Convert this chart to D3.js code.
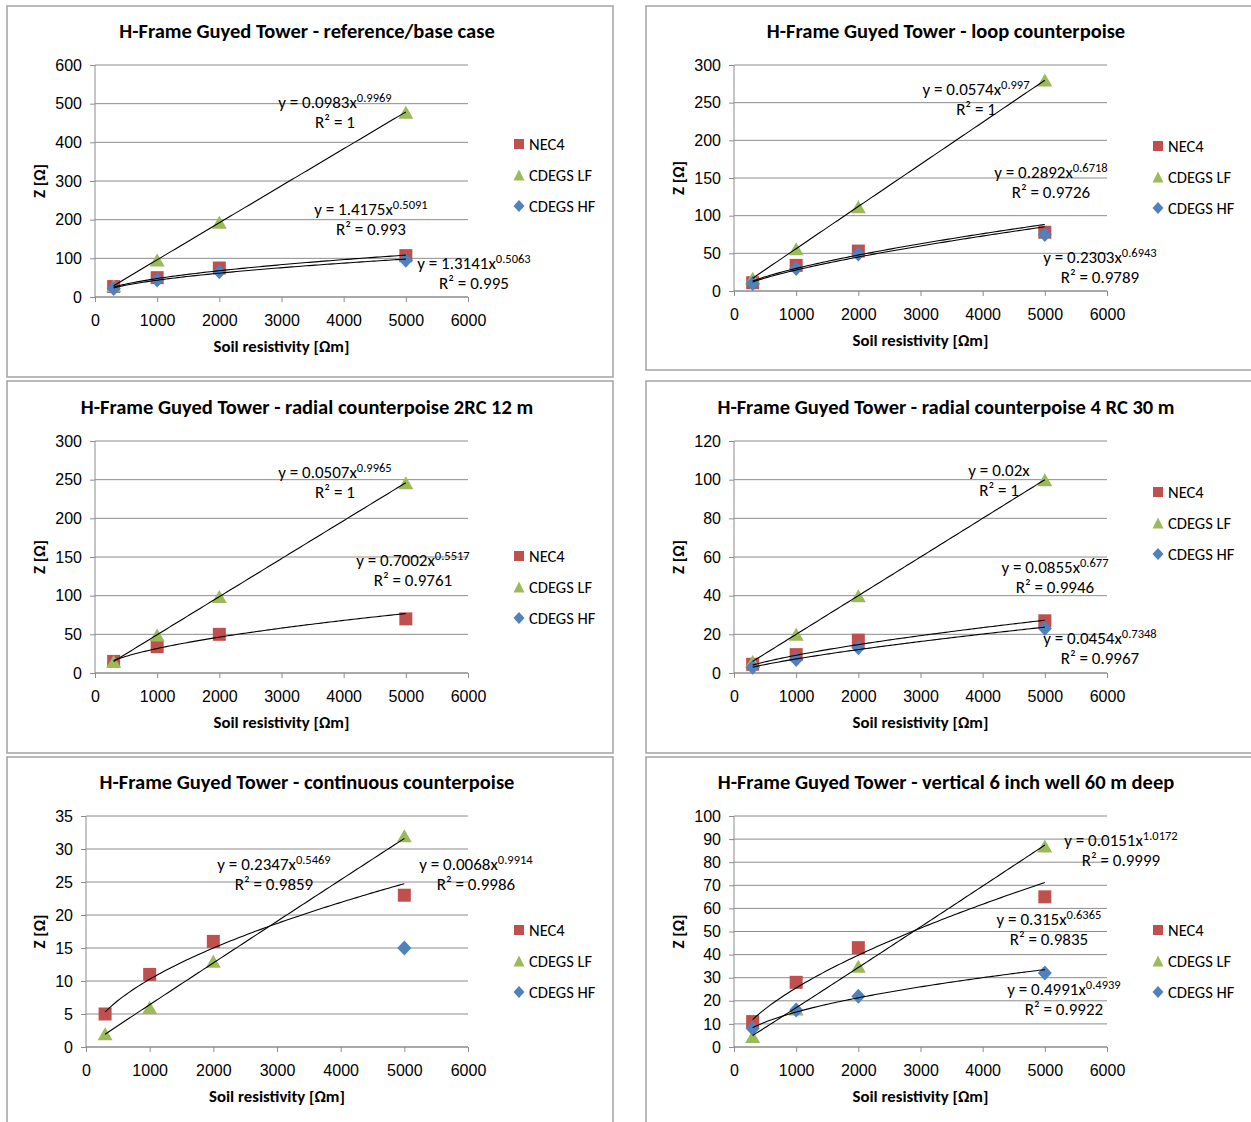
<!DOCTYPE html>
<html>
<head>
<meta charset="utf-8">
<script src="https://cdn.jsdelivr.net/npm/d3@7"></script>
<style>
  body { margin: 0; background: #fff; }
  svg { display: block; font-family: Carlito, Calibri, 'Liberation Sans', Arial, sans-serif; }
</style>
</head>
<body>
<div id="chart"></div>
<script>
// Soil resistivity values used in every panel
const resistivity = [300, 1000, 2000, 5000];
const seriesNames = ['NEC4', 'CDEGS LF', 'CDEGS HF'];
const seriesColors = ['#C0504D', '#9BBB59', '#4F81BD'];
const xTicks = [0, 1000, 2000, 3000, 4000, 5000, 6000];

const titles = [
  'H-Frame Guyed Tower - reference/base case',
  'H-Frame Guyed Tower - loop counterpoise',
  'H-Frame Guyed Tower - radial counterpoise 2RC 12 m',
  'H-Frame Guyed Tower - radial counterpoise 4 RC 30 m',
  'H-Frame Guyed Tower - continuous counterpoise',
  'H-Frame Guyed Tower - vertical 6 inch well 60 m deep',
];
const yMax = [600, 300, 300, 120, 35, 100];
const yStep = [100, 50, 50, 20, 5, 10];

// Z [ohm] per panel, one value per resistivity (null = no point)
const nec4Values = [
  [27, 50, 75, 107],
  [11, 34, 53, 78],
  [15, 34, 50, 70],
  [4.5, 9.5, 17, 27],
  [5, 11, 16, 23],
  [11, 28, 43, 65],
];
const cdegsLfValues = [
  [29, 96, 193, 478],
  [17, 56, 112, 280],
  [15, 49, 99, 246],
  [6, 20, 40, 100],
  [2, 6, 13, 32],
  [4.5, 16.5, 35, 87],
];
const cdegsHfValues = [
  [22, 44, 65, 95],
  [10, 30, 49, 75],
  [null, null, null, null],
  [3, 7, 13, 23],
  [null, null, null, 15],
  [8, 16, 22, 32],
];

// power trendlines y = a x^b as printed on the chart: [NEC4, LF, HF]
const trendCoef = [
  ['1.4175', '0.0983', '1.3141'],
  ['0.2892', '0.0574', '0.2303'],
  ['0.7002', '0.0507', null],
  ['0.0855', '0.02', '0.0454'],
  ['0.2347', '0.0068', null],
  ['0.315', '0.0151', '0.4991'],
];
const trendExp = [
  ['0.5091', '0.9969', '0.5063'],
  ['0.6718', '0.997', '0.6943'],
  ['0.5517', '0.9965', null],
  ['0.677', '', '0.7348'],
  ['0.5469', '0.9914', null],
  ['0.6365', '1.0172', '0.4939'],
];
const trendR2 = [
  ['0.993', '1', '0.995'],
  ['0.9726', '1', '0.9789'],
  ['0.9761', '1', null],
  ['0.9946', '1', '0.9967'],
  ['0.9859', '0.9986', null],
  ['0.9835', '0.9999', '0.9922'],
];
// label anchor (data units) for each trendline equation
const labelPos = [
  [[4439, 212], [3860, 489], [6096, 72]],
  [[5099, 150], [3893, 260], [5887, 37]],
  [[5115, 138], [3860, 252], null],
  [[5163, 51.7], [4263, 101.9], [5887, 15]],
  [[2953, 26.8], [6125, 26.8], null],
  [[5067, 52.8], [6225, 87], [5308, 22.5]],
];

// panel frames and layout
const panelLeft = [7, 646, 7, 646, 7, 646];
const panelTop = [6, 6, 381, 381, 757, 757];
const panelHeight = [371, 364, 372, 372, 380, 380];
const plotLeft = [88, 88, 88, 88, 79, 88];
const plotTop = [59, 59, 60, 60, 59, 59];
const plotBottom = [291, 285, 292, 292, 290, 290];
const legendMid = [169, 171, 206, 142, 204, 204];
const panelWidth = 606;
const plotRight = 461;

const svg = d3
  .select('#chart')
  .append('svg')
  .attr('width', 1251)
  .attr('height', 1122);

svg.append('rect').attr('width', 1251).attr('height', 1122).attr('fill', '#fff');

// marker shapes (Excel style), w = width, h = height
function markerPath(kind, w, h) {
  const p = d3.path();
  if (kind === 0) {
    p.rect(-w / 2, -h / 2, w, h);
  } else if (kind === 1) {
    p.moveTo(0, -h / 2);
    p.lineTo(w / 2, h / 2);
    p.lineTo(-w / 2, h / 2);
    p.closePath();
  } else {
    p.moveTo(0, -h / 2);
    p.lineTo(w / 2, 0);
    p.lineTo(0, h / 2);
    p.lineTo(-w / 2, 0);
    p.closePath();
  }
  return p.toString();
}
const markerSize = [[13, 13], [15, 13], [14, 15]];
const legendMarkerSize = [[10, 10], [11, 11], [11, 12]];

function drawPanel(p) {
  const g = svg.append('g').attr('transform', `translate(${panelLeft[p]},${panelTop[p]})`);

  g.append('rect')
    .attr('x', 0)
    .attr('y', 0)
    .attr('width', panelWidth)
    .attr('height', panelHeight[p])
    .attr('fill', 'none')
    .attr('stroke', '#a3a3a3')
    .attr('stroke-width', 1.5);

  const x = d3.scaleLinear().domain([0, 6000]).range([plotLeft[p], plotRight]);
  const y = d3.scaleLinear().domain([0, yMax[p]]).range([plotBottom[p], plotTop[p]]);
  const yTicks = d3.range(0, yMax[p] + yStep[p] / 2, yStep[p]);

  // gridlines
  g.append('g')
    .selectAll('line')
    .data(yTicks)
    .join('line')
    .attr('x1', plotLeft[p])
    .attr('x2', plotRight)
    .attr('y1', (d) => y(d))
    .attr('y2', (d) => y(d))
    .attr('stroke', '#8c8c8c')
    .attr('stroke-width', 1);

  // axes
  const yAxis = g
    .append('g')
    .attr('transform', `translate(${plotLeft[p]},0)`)
    .call(d3.axisLeft(y).tickValues(yTicks).tickSize(5).tickPadding(8).tickFormat(d3.format('d')));
  const xAxis = g
    .append('g')
    .attr('transform', `translate(0,${plotBottom[p]})`)
    .call(d3.axisBottom(x).tickValues(xTicks).tickSize(5).tickPadding(13).tickFormat(d3.format('d')));

  [yAxis, xAxis].forEach((a) => {
    a.select('.domain').attr('stroke', '#8c8c8c');
    a.selectAll('.tick line').attr('stroke', '#8c8c8c');
    a.selectAll('.tick text')
      .attr('fill', '#000')
      .style('font-family', 'inherit')
      .style('font-size', '16px');
  });
  yAxis.select('.domain').attr('d', `M0,${plotBottom[p]}V${plotTop[p]}`);
  xAxis.select('.domain').attr('d', `M${plotLeft[p]},0H${plotRight}`);

  // title
  g.append('text')
    .attr('x', panelWidth / 2 - 3)
    .attr('y', p < 2 ? 25 : p < 4 ? 26 : 25)
    .attr('dy', '0.35em')
    .attr('text-anchor', 'middle')
    .style('font-size', '20.5px')
    .style('font-weight', 'bold')
    .text(titles[p]);

  // axis titles
  g.append('text')
    .attr('x', (plotLeft[p] + plotRight) / 2)
    .attr('y', plotBottom[p] + 49)
    .attr('dy', '0.35em')
    .attr('text-anchor', 'middle')
    .style('font-size', '16.8px')
    .style('font-weight', 'bold')
    .text('Soil resistivity [Ωm]');

  g.append('text')
    .attr('transform', `translate(32,${(plotTop[p] + plotBottom[p]) / 2}) rotate(-90)`)
    .attr('dy', '0.35em')
    .attr('text-anchor', 'middle')
    .style('font-size', '16.8px')
    .style('font-weight', 'bold')
    .text('Z [Ω]');

  // markers
  const values = [nec4Values[p], cdegsLfValues[p], cdegsHfValues[p]];
  values.forEach((vals, s) => {
    const pts = resistivity
      .map((r, i) => ({ r: r, z: vals[i] }))
      .filter((d) => d.z !== null);
    g.append('g')
      .selectAll('path')
      .data(pts)
      .join('path')
      .attr('transform', (d) => `translate(${x(d.r)},${y(d.z)})`)
      .attr('d', markerPath(s, markerSize[s][0], markerSize[s][1]))
      .attr('fill', seriesColors[s]);
  });

  // power trendlines and their equations
  const line = d3
    .line()
    .x((d) => x(d[0]))
    .y((d) => y(d[1]));

  trendCoef[p].forEach((aStr, s) => {
    if (aStr === null) return;
    const a = +aStr;
    const b = trendExp[p][s] === '' ? 1 : +trendExp[p][s];
    const xs = d3.range(0, 101).map((k) => resistivity[0] + (k / 100) * (resistivity[3] - resistivity[0]));
    g.append('path')
      .datum(xs.map((v) => [v, a * Math.pow(v, b)]))
      .attr('d', line)
      .attr('fill', 'none')
      .attr('stroke', '#000')
      .attr('stroke-width', 1.1);

    const [lx, ly] = labelPos[p][s];
    const t1 = g
      .append('text')
      .attr('x', x(lx))
      .attr('y', y(ly))
      .attr('text-anchor', 'middle')
      .style('font-size', '17px');
    t1.append('tspan').text(`y = ${aStr}x`);
    if (trendExp[p][s] !== '') {
      t1.append('tspan').attr('dy', -6).style('font-size', '12.5px').text(trendExp[p][s]);
    }
    g.append('text')
      .attr('x', x(lx))
      .attr('y', y(ly) + 20)
      .attr('text-anchor', 'middle')
      .style('font-size', '17px')
      .text(`R² = ${trendR2[p][s]}`);
  });

  // legend
  const legend = g
    .append('g')
    .selectAll('g')
    .data(seriesNames)
    .join('g')
    .attr('transform', (d, i) => `translate(${plotRight + 51},${legendMid[p] + (i - 1) * 31})`);
  legend
    .append('path')
    .attr('d', (d, i) => markerPath(i, legendMarkerSize[i][0], legendMarkerSize[i][1]))
    .attr('fill', (d, i) => seriesColors[i]);
  legend
    .append('text')
    .attr('x', 10)
    .attr('dy', '0.35em')
    .style('font-size', '16.5px')
    .text((d) => d);
}

d3.range(6).forEach(drawPanel);
</script>
</body>
</html>
